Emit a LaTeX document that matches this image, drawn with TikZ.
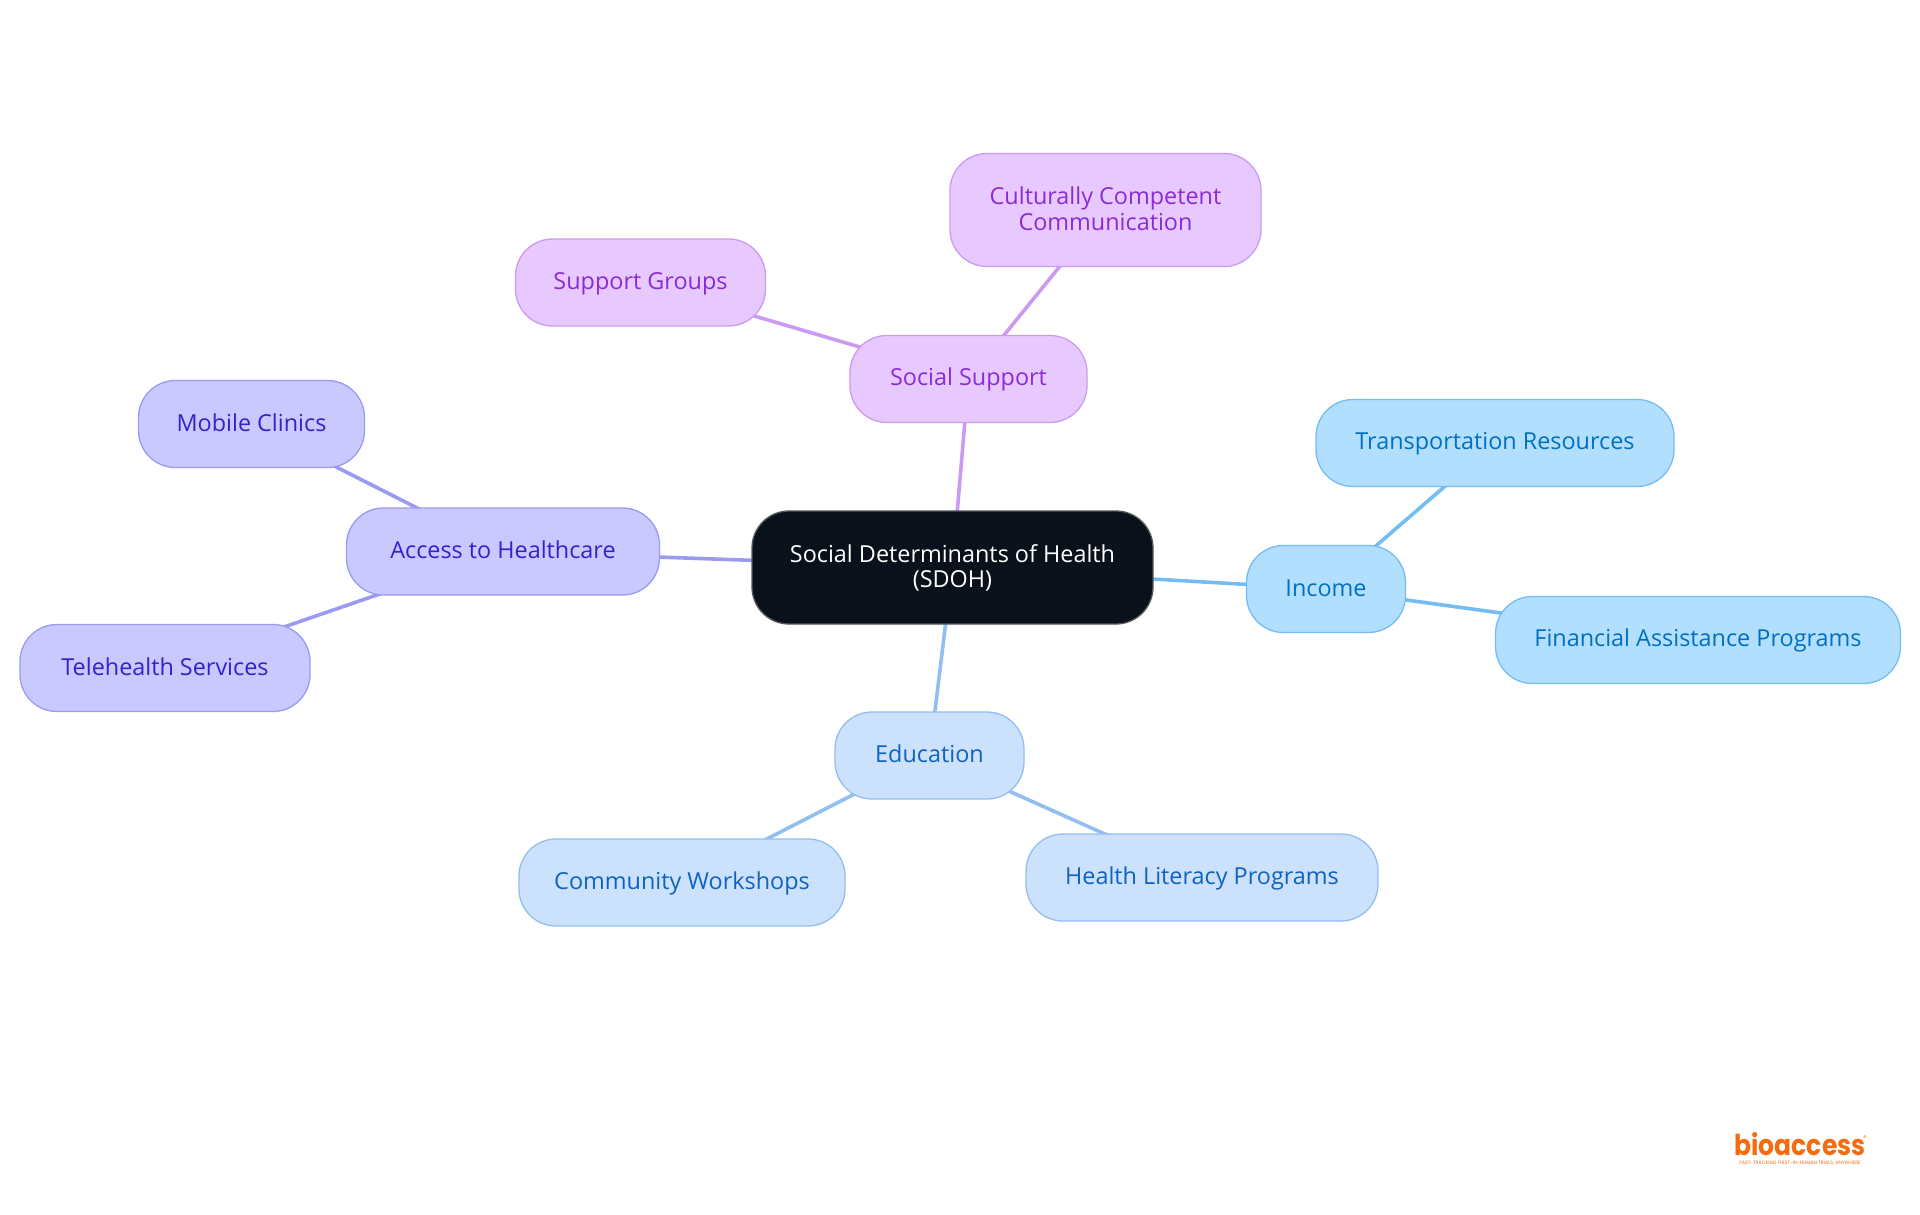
\documentclass[tikz,border=0pt]{standalone}
\usepackage{fontspec}
\setmainfont{Open Sans}
\newfontfamily\logofont{Poppins}
\usetikzlibrary{backgrounds}
\definecolor{rootfill}{HTML}{0A111A}
\definecolor{rootline}{HTML}{55585C}
\definecolor{purpfill}{HTML}{E7C9FF}
\definecolor{purpline}{HTML}{CB9BF3}
\definecolor{purptext}{HTML}{8A2BD6}
\definecolor{skyfill}{HTML}{B3DFFF}
\definecolor{skyline}{HTML}{74BDF2}
\definecolor{skytext}{HTML}{0070C0}
\definecolor{bluefill}{HTML}{CCE2FC}
\definecolor{blueline}{HTML}{92BEF0}
\definecolor{bluetext}{HTML}{0F62C0}
\definecolor{violfill}{HTML}{C9C9FF}
\definecolor{violline}{HTML}{9A9AF0}
\definecolor{violtext}{HTML}{3322CC}
\definecolor{logoorange}{HTML}{F76B0F}
\tikzset{
  box/.style={rounded corners=37pt,line width=1.3pt,inner sep=0pt,align=center,
    font=\fontsize{23.4}{25.4}\selectfont},
  rootbox/.style={box,fill=rootfill,draw=rootline,text=white},
  purpbox/.style={box,fill=purpfill,draw=purpline,text=purptext},
  skybox/.style={box,fill=skyfill,draw=skyline,text=skytext},
  bluebox/.style={box,fill=bluefill,draw=blueline,text=bluetext},
  violbox/.style={box,fill=violfill,draw=violline,text=violtext},
  purpedge/.style={draw=purpline,line width=3.6pt},
  skyedge/.style={draw=skyline,line width=3.6pt},
  blueedge/.style={draw=blueline,line width=3.6pt},
  violedge/.style={draw=violline,line width=3.6pt},
}
\newcommand{\st}{\rule[-4.4pt]{0pt}{23.4pt}}
\newcommand{\bx}[7]{\node[#1,minimum width=#4pt,minimum height=#5pt] (#2) at (#6,#7) {\st #3};}
\begin{document}
\begin{tikzpicture}[x=1pt,y=-1pt]
\useasboundingbox (0,0) rectangle (1920,1215);
\bx{rootbox}{root}{Social Determinants of Health\\\st (SDOH)}{401}{113}{952.5}{567.5}
\bx{purpbox}{social}{Social Support}{237}{87}{968.5}{379}
\bx{purpbox}{cultural}{Culturally Competent\\\st Communication}{311}{113}{1105.5}{210}
\bx{purpbox}{groups}{Support Groups}{250}{87}{640.5}{282.5}
\bx{violbox}{access}{Access to Healthcare}{313}{87}{503}{551.5}
\bx{violbox}{mobile}{Mobile Clinics}{226}{87}{251.5}{424}
\bx{violbox}{tele}{Telehealth Services}{290}{87}{165}{668}
\bx{skybox}{income}{Income}{159}{87}{1326}{589}
\bx{skybox}{transport}{Transportation Resources}{358}{87}{1495}{443}
\bx{skybox}{finance}{Financial Assistance Programs}{405}{87}{1698}{640}
\bx{bluebox}{edu}{Education}{189}{87}{929.5}{755.5}
\bx{bluebox}{community}{Community Workshops}{326}{87}{682}{882.5}
\bx{bluebox}{literacy}{Health Literacy Programs}{352}{87}{1202}{877.5}
\node[inner sep=0pt,text=logoorange,yscale=1.15,transform shape,font=\logofont\bfseries\fontsize{25}{25}\selectfont] (logo) at (1800,1144) {bioaccess};
\node[inner sep=0pt,text=logoorange,font=\logofont\fontsize{7}{7}\selectfont] (reg) at (1865,1138) {®};
\node[inner sep=0pt,text=logoorange,font=\logofont\fontsize{4.8}{5}\selectfont] (tag) at (1800,1163) {FAST-TRACKING FIRST-IN-HUMAN TRIALS, ANYWHERE};
\begin{scope}[on background layer]
\fill[white] (0,0) rectangle (1920,1215);
\draw[purpedge] (root.center) -- (social.center);
\draw[purpedge] (social.center) -- (cultural.center);
\draw[purpedge] (social.center) -- (groups.center);
\draw[violedge] (root.center) -- (access.center);
\draw[violedge] (access.center) -- (mobile.center);
\draw[violedge] (access.center) -- (tele.center);
\draw[skyedge] (root.center) -- (income.center);
\draw[skyedge] (income.center) -- (transport.center);
\draw[skyedge] (income.center) -- (finance.center);
\draw[blueedge] (root.center) -- (edu.center);
\draw[blueedge] (edu.center) -- (community.center);
\draw[blueedge] (edu.center) -- (literacy.center);
\end{scope}
\end{tikzpicture}
\end{document}
